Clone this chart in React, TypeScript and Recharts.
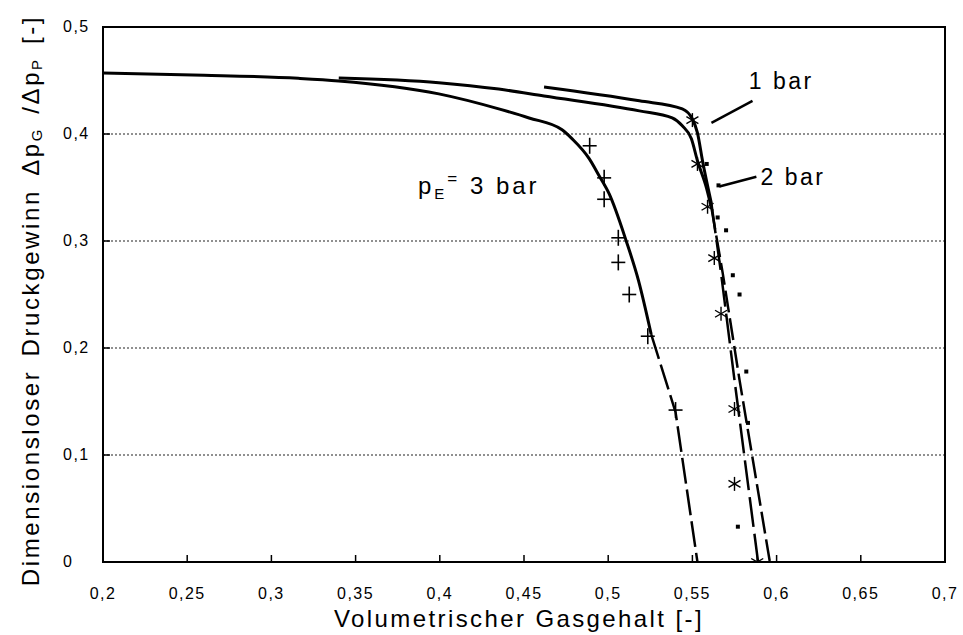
import { ComposedChart, Line, Scatter, XAxis, YAxis, CartesianGrid, ReferenceArea, ReferenceLine, ReferenceDot } from 'recharts'

const X_TICKS = [0.2, 0.25, 0.3, 0.35, 0.4, 0.45, 0.5, 0.55, 0.6, 0.65, 0.7]
const Y_TICKS = [0, 0.1, 0.2, 0.3, 0.4, 0.5]

// pE = 3 bar: solid fit, dashed tail, measured points (+)
const bar3Line = [
  { x: 0.2, y: 0.457 }, { x: 0.26, y: 0.455 }, { x: 0.316, y: 0.452 }, { x: 0.34, y: 0.4496 },
  { x: 0.3994, y: 0.4375 }, { x: 0.435, y: 0.4235 }, { x: 0.453, y: 0.415 }, { x: 0.4726, y: 0.404 },
  { x: 0.4786, y: 0.3955 }, { x: 0.4887, y: 0.377 }, { x: 0.4946, y: 0.361 }, { x: 0.5006, y: 0.344 },
  { x: 0.5107, y: 0.3 }, { x: 0.518, y: 0.263 }, { x: 0.5255, y: 0.213 },
]
const bar3Tail = [{ x: 0.5255, y: 0.213 }, { x: 0.54, y: 0.14 }, { x: 0.553, y: 0 }]
const bar3Points = [
  { x: 0.489, y: 0.389 }, { x: 0.4976, y: 0.359 }, { x: 0.4976, y: 0.339 }, { x: 0.506, y: 0.303 },
  { x: 0.506, y: 0.28 }, { x: 0.5125, y: 0.25 }, { x: 0.5235, y: 0.211 }, { x: 0.54, y: 0.142 },
]

// pE = 2 bar (small dots)
const bar2Line = [
  { x: 0.34, y: 0.4524 }, { x: 0.3994, y: 0.448 }, { x: 0.435, y: 0.442 }, { x: 0.4619, y: 0.4355 },
  { x: 0.5185, y: 0.4216 }, { x: 0.538, y: 0.415 }, { x: 0.544, y: 0.4076 }, { x: 0.5494, y: 0.3955 },
  { x: 0.553, y: 0.375 }, { x: 0.5583, y: 0.35 }, { x: 0.5613, y: 0.331 },
]
const bar2Tail = [{ x: 0.5613, y: 0.331 }, { x: 0.568, y: 0.27 }, { x: 0.578, y: 0.17 }, { x: 0.587, y: 0.085 }, { x: 0.596, y: 0 }]
const bar2Points = [
  { x: 0.5585, y: 0.372 }, { x: 0.5655, y: 0.352 }, { x: 0.565, y: 0.322 }, { x: 0.57, y: 0.31 },
  { x: 0.574, y: 0.268 }, { x: 0.578, y: 0.25 }, { x: 0.582, y: 0.178 }, { x: 0.583, y: 0.13 }, { x: 0.577, y: 0.033 },
]

// pE = 1 bar (asterisks)
const bar1Line = [
  { x: 0.4619, y: 0.444 }, { x: 0.5185, y: 0.431 }, { x: 0.544, y: 0.4235 }, { x: 0.55, y: 0.414 },
  { x: 0.553, y: 0.401 }, { x: 0.556, y: 0.375 }, { x: 0.5613, y: 0.335 },
]
const bar1Tail = [{ x: 0.5613, y: 0.335 }, { x: 0.567, y: 0.27 }, { x: 0.575, y: 0.17 }, { x: 0.582, y: 0.085 }, { x: 0.589, y: 0 }]
const bar1Points = [
  { x: 0.55, y: 0.413 }, { x: 0.553, y: 0.372 }, { x: 0.559, y: 0.332 }, { x: 0.563, y: 0.284 },
  { x: 0.567, y: 0.232 }, { x: 0.575, y: 0.143 }, { x: 0.575, y: 0.073 }, { x: 0.5885, y: 0 },
]

const fmt = (v: number) => (v === 0 ? '0' : String(v).replace('.', ','))

const Cross = ({ cx, cy }: any) => (
  <g stroke="#000" strokeWidth={1.6}>
    <line x1={cx - 7} y1={cy} x2={cx + 7} y2={cy} />
    <line x1={cx} y1={cy - 8} x2={cx} y2={cy + 8} />
  </g>
)

const Star = ({ cx, cy }: any) => (
  <g stroke="#000" strokeWidth={1.4}>
    <line x1={cx} y1={cy - 7} x2={cx} y2={cy + 7} />
    <line x1={cx - 6} y1={cy - 3.5} x2={cx + 6} y2={cy + 3.5} />
    <line x1={cx - 6} y1={cy + 3.5} x2={cx + 6} y2={cy - 3.5} />
  </g>
)

const Dot = ({ cx, cy }: any) => <rect x={cx - 2} y={cy - 2} width={4} height={4} fill="#000" />

const XTick = ({ x, y, payload }: any) => (
  <text x={x} y={y} dy={14} textAnchor="middle" fontSize={16} letterSpacing={1.5} fill="#000">
    {fmt(payload.value)}
  </text>
)

const YTick = ({ y, payload }: any) => (
  <text x={63} y={y} dy={5} textAnchor="start" fontSize={16} letterSpacing={1.5} fill="#000">
    {fmt(payload.value)}
  </text>
)

const YTitle = ({ viewBox }: any) => {
  const cy = viewBox.y + viewBox.height / 2 + 6
  return (
    <text x={30} y={cy} transform={`rotate(-90 30 ${cy})`} textAnchor="middle" dominantBaseline="central" fontSize={24} letterSpacing={2.6} wordSpacing={4} fill="#000">
      Dimensionsloser Druckgewinn Δp<tspan fontSize={15} dy={6}>G</tspan>
      <tspan dy={-6}> /Δp</tspan><tspan fontSize={15} dy={6}>P</tspan>
      <tspan dy={-6}> [-]</tspan>
    </text>
  )
}

const XTitle = ({ viewBox }: any) => (
  <text x={viewBox.x + viewBox.width / 2 - 5} y={viewBox.y + 65} textAnchor="middle" fontSize={24} letterSpacing={2.4} fill="#000">
    Volumetrischer Gasgehalt [-]
  </text>
)

const Note = ({ cx, cy, text }: any) => (
  <text x={cx} y={cy} fontSize={23} letterSpacing={2.5} fill="#000">{text}</text>
)

const PeNote = ({ cx, cy }: any) => (
  <text x={cx} y={cy} fontSize={24} letterSpacing={3} fill="#000">
    p<tspan fontSize={15} dy={5}>E</tspan><tspan fontSize={17} dy={-15}>=</tspan><tspan fontSize={24} dy={10}> 3 bar</tspan>
  </text>
)

export default function App() {
  return (
    <div style={{ width: 963, height: 635, background: '#fff', fontFamily: '"Liberation Sans", Arial, sans-serif' }}>
      <style>{'body{margin:0}'}</style>
      <ComposedChart width={963} height={635} margin={{ top: 27, right: 18, bottom: 0, left: 0 }}>
        <CartesianGrid vertical={false} stroke="#222" strokeDasharray="2 2" strokeWidth={1.2} />
        <XAxis
          dataKey="x"
          type="number"
          domain={[0.2, 0.7]}
          ticks={X_TICKS}
          height={73}
          tickSize={-7}
          tickMargin={30}
          tick={<XTick />}
          axisLine={{ stroke: '#000', strokeWidth: 2 }}
          tickLine={{ stroke: '#000', strokeWidth: 1.5 }}
          label={<XTitle />}
          allowDataOverflow
        />
        <YAxis
          type="number"
          domain={[0, 0.5]}
          ticks={Y_TICKS}
          width={103}
          tickSize={-7}
          tick={<YTick />}
          axisLine={{ stroke: '#000', strokeWidth: 2 }}
          tickLine={{ stroke: '#000', strokeWidth: 1.5 }}
          label={<YTitle />}
          allowDataOverflow
        />
        <ReferenceArea x1={0.2} x2={0.7} y1={0} y2={0.5} fill="none" stroke="#000" strokeWidth={2} ifOverflow="visible" />

        <Line data={bar3Line} dataKey="y" type="monotone" dot={false} stroke="#000" strokeWidth={3} isAnimationActive={false} />
        <Line data={bar3Tail} dataKey="y" type="linear" dot={false} stroke="#000" strokeWidth={2.5} strokeDasharray="26 6" isAnimationActive={false} />
        <Line data={bar2Line} dataKey="y" type="monotone" dot={false} stroke="#000" strokeWidth={3} isAnimationActive={false} />
        <Line data={bar2Tail} dataKey="y" type="linear" dot={false} stroke="#000" strokeWidth={2.5} strokeDasharray="22 6" isAnimationActive={false} />
        <Line data={bar1Line} dataKey="y" type="monotone" dot={false} stroke="#000" strokeWidth={3} isAnimationActive={false} />
        <Line data={bar1Tail} dataKey="y" type="linear" dot={false} stroke="#000" strokeWidth={2.5} strokeDasharray="30 7" isAnimationActive={false} />

        <Scatter data={bar3Points} dataKey="y" shape={<Cross />} isAnimationActive={false} />
        <Scatter data={bar1Points} dataKey="y" shape={<Star />} isAnimationActive={false} />
        <Scatter data={bar2Points} dataKey="y" shape={<Dot />} isAnimationActive={false} />

        <ReferenceLine segment={[{ x: 0.5613, y: 0.4104 }, { x: 0.5857, y: 0.431 }]} stroke="#000" strokeWidth={2.5} />
        <ReferenceLine segment={[{ x: 0.566, y: 0.351 }, { x: 0.588, y: 0.36 }]} stroke="#000" strokeWidth={2.5} />
        <ReferenceDot x={0.5835} y={0.442} r={0} ifOverflow="visible" shape={<Note text="1 bar" />} />
        <ReferenceDot x={0.5905} y={0.352} r={0} ifOverflow="visible" shape={<Note text="2 bar" />} />
        <ReferenceDot x={0.387} y={0.344} r={0} ifOverflow="visible" shape={<PeNote />} />
      </ComposedChart>
    </div>
  )
}
